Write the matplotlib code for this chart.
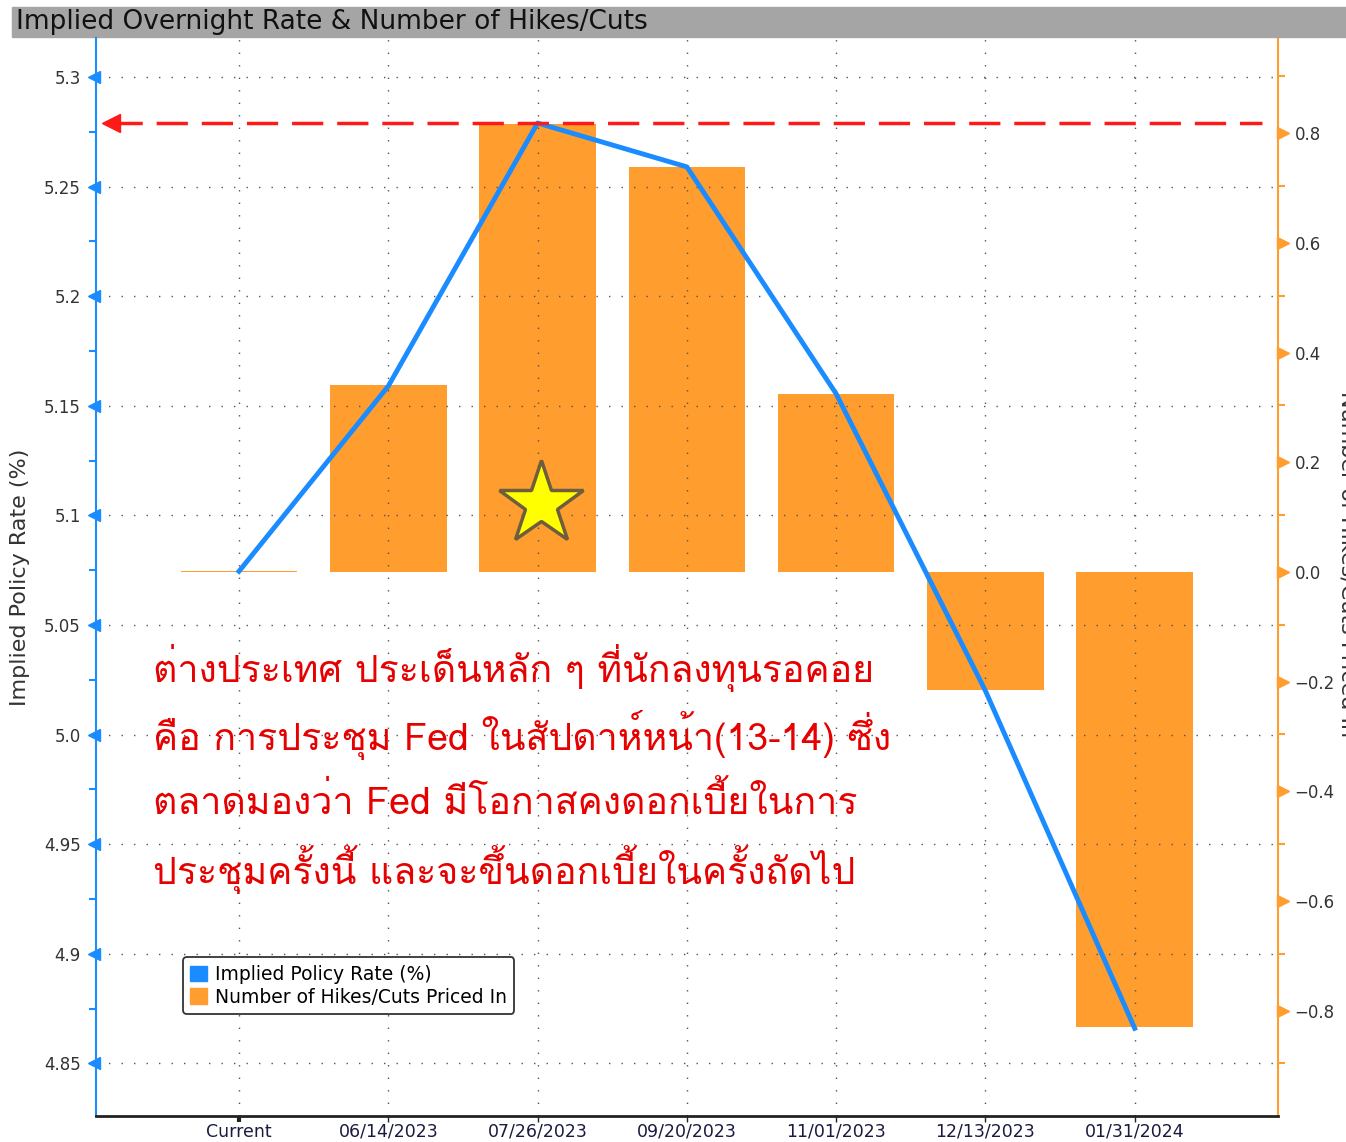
import matplotlib
matplotlib.use("Agg")
import matplotlib.pyplot as plt
from matplotlib.patches import Patch, Rectangle
from matplotlib import font_manager
from matplotlib.ft2font import FT2Font
import numpy as np

# data
dates = ["Current", "06/14/2023", "07/26/2023", "09/20/2023",
         "11/01/2023", "12/13/2023", "01/31/2024"]
implied_rate = [5.0745, 5.159, 5.279, 5.259, 5.1555, 5.020, 4.866]
hikes_cuts = [0.002, 0.341, 0.817, 0.738, 0.325, -0.215, -0.830]

left_ticks = [4.85, 4.9, 4.95, 5.0, 5.05, 5.1, 5.15, 5.2, 5.25, 5.3]
left_ticklabels = ["4.85", "4.9", "4.95", "5.0", "5.05", "5.1", "5.15", "5.2", "5.25", "5.3"]
right_ticks = [-0.8, -0.6, -0.4, -0.2, 0.0, 0.2, 0.4, 0.6, 0.8]

note_lines = [
    "ต่างประเทศ ประเด็นหลัก ๆ ที่นักลงทุนรอคอย",
    "คือ การประชุม Fed ในสัปดาห์หน้า(13-14) ซึ่ง",
    "ตลาดมองว่า Fed มีโอกาสคงดอกเบี้ยในการ",
    "ประชุมครั้งนี้ และจะขึ้นดอกเบี้ยในครั้งถัดไป",
]

# find any installed font that can draw Thai
thai_font = None
for f in font_manager.fontManager.ttflist:
    try:
        if 0x0E01 in FT2Font(f.fname).get_charmap():
            thai_font = f.name
            break
    except Exception:
        pass
thai_family = [thai_font, "DejaVu Sans"] if thai_font else ["DejaVu Sans"]

BLUE = "#1a8cff"
ORANGE = "#ff9d2e"
plt.rcParams["font.family"] = ["DejaVu Sans"]

fig = plt.figure(figsize=(13.46, 11.42), dpi=100)
ax = fig.add_axes([96/1346, 1-1116/1142, 1182/1346, 1078/1142])
ax2 = ax.twinx()
ax.set_zorder(ax2.get_zorder() + 1)
ax.patch.set_visible(False)

x = np.arange(len(dates))
ax2.bar(x, hikes_cuts, width=0.78, color=ORANGE, zorder=2)
ax.plot(x, implied_rate, color=BLUE, lw=3.5, zorder=3, solid_joinstyle="round")

# red dashed reference at the peak
peak = max(implied_rate)
ax.plot([-0.86, 6.85], [peak, peak], color="#ff1a1a", lw=2.5, dashes=(9, 4), zorder=4)
ax.plot([-0.86], [peak], marker="<", color="#ff1a1a", ms=13, zorder=4)

# star
ax.plot([2.02], [5.105], marker="*", ms=63, markerfacecolor="#ffff00",
        markeredgecolor="#6e5e3e", markeredgewidth=2.5, zorder=5)

ax.set_xlim(-0.958, 6.96)
ax.set_ylim(4.826, 5.3178)
ax2.set_ylim(-0.992, 0.974)

# grid
for yv in left_ticks:
    ax.axhline(yv, color="#555555", lw=1, ls=(0, (1, 8)), zorder=1)
for xv in x:
    ax.axvline(xv, color="#555555", lw=1, ls=(0, (1, 8)), zorder=1)

# spines
ax.spines["top"].set_visible(False)
ax2.spines["top"].set_visible(False)
ax.spines["left"].set_color(BLUE)
ax.spines["left"].set_linewidth(1.5)
ax.spines["right"].set_visible(False)
ax2.spines["left"].set_visible(False)
ax2.spines["right"].set_color(ORANGE)
ax2.spines["right"].set_linewidth(1.5)
ax.spines["bottom"].set_color("#222222")
ax.spines["bottom"].set_linewidth(2)
ax2.spines["bottom"].set_visible(False)

# left ticks
ax.set_yticks(left_ticks)
ax.set_yticklabels(left_ticklabels)
ax.set_yticks([v + 0.025 for v in left_ticks[:-1]], minor=True)
ax.tick_params(axis="y", which="major", length=0, pad=11, labelsize=12, labelcolor="#333333")
ax.tick_params(axis="y", which="minor", length=5, color=BLUE, width=1.5)
ax.plot(np.full(len(left_ticks), -0.002), left_ticks, transform=ax.get_yaxis_transform(),
        ls="none", marker="<", color=BLUE, ms=8, clip_on=False, zorder=6)

# right ticks
ax2.set_yticks(right_ticks)
ax2.set_yticklabels([f"{v:.1f}".replace("-", "\u2212") for v in right_ticks])
ax2.set_yticks([(v - 5.074) / 0.25 for v in left_ticks], minor=True)
ax2.tick_params(axis="y", which="major", length=0, pad=12, labelsize=12, labelcolor="#333333")
ax2.tick_params(axis="y", which="minor", length=5, color=ORANGE, width=1.5)
ax2.plot(np.full(len(right_ticks), 1.004), right_ticks, transform=ax2.get_yaxis_transform(),
         ls="none", marker=">", color=ORANGE, ms=8, clip_on=False, zorder=6)

# x ticks
ax.set_xticks(x)
ax.set_xticklabels(dates)
ax.tick_params(axis="x", length=4, width=1, color="#222222", labelsize=12.5,
               labelcolor="#1a1a40", pad=1)
ax.xaxis.get_major_ticks()[0].tick1line.set_markeredgewidth(3)
ax2.tick_params(axis="x", length=0)

ax.set_ylabel("Implied Policy Rate (%)", fontsize=16, color="#333333", labelpad=10)
# right label is partly outside the figure, as in the original screenshot
fig.text(1338/1346, 578/1142, "Number of Hikes/Cuts Priced In", rotation=270,
         fontsize=16, color="#333333", ha="left", va="center")

# legend
handles = [Patch(color=BLUE, label="Implied Policy Rate (%)"),
           Patch(color=ORANGE, label="Number of Hikes/Cuts Priced In")]
leg = ax.legend(handles=handles, loc="lower left", bbox_to_anchor=(0.0736, 0.0946),
                borderaxespad=0, fontsize=13.5, handlelength=0.9, handleheight=0.9,
                handletextpad=0.4, labelspacing=0.2, frameon=True, fancybox=True,
                edgecolor="#333333", framealpha=1)
leg.get_frame().set_linewidth(1.3)

# title bar
fig.patches.append(Rectangle((12/1346, 1-37/1142), 1-12/1346, 30/1142,
                             transform=fig.transFigure, color="#a5a5a5", zorder=0))
fig.text(16/1346, 1-22/1142, "Implied Overnight Rate & Number of Hikes/Cuts",
         fontsize=19, color="#111111", va="center", ha="left")

# thai note
for i, line in enumerate(note_lines):
    fig.text(153/1346, 1-(668 + i*67)/1142, line, fontsize=27, color="#e60000",
             family=thai_family, va="center", ha="left", zorder=10)

fig.savefig("out.png", dpi=100)
